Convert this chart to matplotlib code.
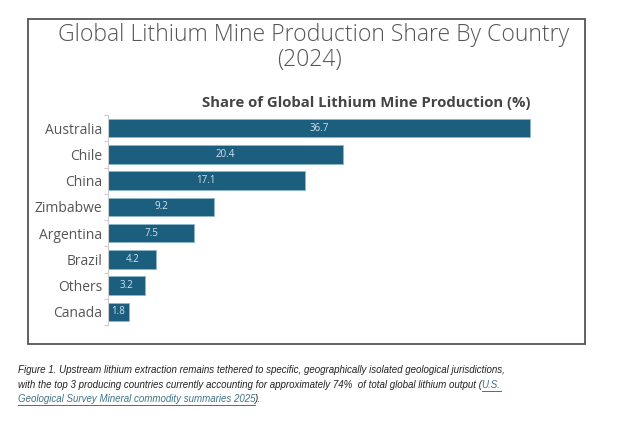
import matplotlib
matplotlib.use("Agg")
import matplotlib.pyplot as plt
from matplotlib.patches import Rectangle
from matplotlib.lines import Line2D

countries = ["Australia", "Chile", "China", "Zimbabwe", "Argentina", "Brazil", "Others", "Canada"]
shares = [36.7, 20.4, 17.1, 9.2, 7.5, 4.2, 3.2, 1.8]

W, H = 624, 421
fig = plt.figure(figsize=(W / 100, H / 100), dpi=100)
fig.patch.set_facecolor("white")

def fx(px):
    return px / W

def fy(py):
    return 1 - py / H

# outer frame
fig.patches.append(Rectangle((fx(27.5), fy(344)), fx(585) - fx(27.5), fy(18.5) - fy(344),
                             transform=fig.transFigure, fill=False, edgecolor="#555555",
                             linewidth=1.3, zorder=0))

ax_left, ax_right = 108, 568
ax_top, ax_bot = 115, 325
ax = fig.add_axes([fx(ax_left), fy(ax_bot), fx(ax_right) - fx(ax_left), fy(ax_top) - fy(ax_bot)])
ax.set_facecolor("none")

n = len(countries)
ypos = list(range(n))
bars = ax.barh(ypos, shares, height=0.7, color="#1b5e7e", edgecolor="#8db7cc", linewidth=0.6)
ax.set_xlim(0, (ax_right - ax_left) * 36.7 / (530 - ax_left))
ax.set_ylim(n - 0.5, -0.5)

for b, v in zip(bars, shares):
    ax.text(b.get_width() / 2, b.get_y() + b.get_height() / 2, f"{v:.1f}",
            ha="center", va="center", color="#d5e3ec", fontsize=7, family="Open Sans")

ax.set_yticks(ypos)
ax.set_yticklabels(countries, family="Open Sans", fontsize=10, color="#555555")
ax.tick_params(axis="y", which="major", length=0, pad=4)
ax.set_yticks([i - 0.5 for i in range(n + 1)], minor=True)
ax.tick_params(axis="y", which="minor", length=3, color="#cccccc", width=0.8)
ax.set_xticks([])
for s in ["top", "right", "bottom"]:
    ax.spines[s].set_visible(False)
ax.spines["left"].set_color("#cccccc")
ax.spines["left"].set_linewidth(0.8)

# titles
fig.text(fx(314), fy(35), "Global Lithium Mine Production Share By Country", ha="center", va="center",
         family="Open Sans", fontsize=16.6, fontweight=300, color="#555555")
fig.text(fx(310), fy(60), "(2024)", ha="center", va="center",
         family="Open Sans", fontsize=16.6, fontweight=300, color="#555555")
fig.text(fx(366), fy(103), "Share of Global Lithium Mine Production (%)", ha="center", va="center",
         family="Open Sans", fontsize=10.7, fontweight="bold", color="#444444")

# caption with mixed colours
cap_family = ["Liberation Sans"]
cap_size = 7.0
dark = "#222222"
link = "#3f7487"
lines = [
    [("Figure 1. Upstream lithium extraction remains tethered to specific, geographically isolated geological jurisdictions,", dark, False)],
    [("with the top 3 producing countries currently accounting for approximately 74%  of total global lithium output (", dark, False),
     ("U.S.", link, True)],
    [("Geological Survey Mineral commodity summaries 2025", link, True), (").", dark, False)],
]
line_y = [370, 385, 399]
fig.canvas.draw()
renderer = fig.canvas.get_renderer()
for segs, yy in zip(lines, line_y):
    x = 17.5
    for txt, col, ul in segs:
        t = fig.text(fx(x), fy(yy), txt, ha="left", va="center", family=cap_family,
                     fontsize=cap_size, style="italic", color=col)
        bb = t.get_window_extent(renderer)
        if ul:
            fig.lines.append(Line2D([fx(x), fx(x + bb.width)], [fy(yy + 6), fy(yy + 6)],
                                    transform=fig.transFigure, color=col, linewidth=0.7))
        x += bb.width

fig.savefig("out.png", dpi=100, facecolor="white")
